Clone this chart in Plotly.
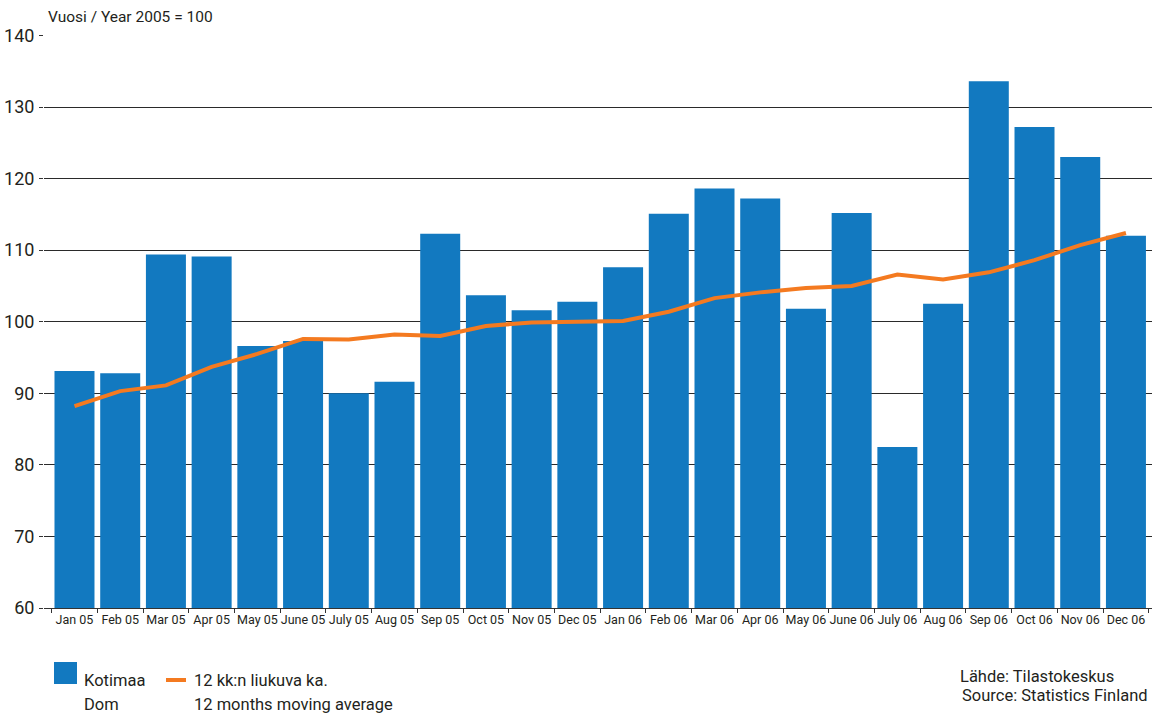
import plotly.graph_objects as go

categories = ["Jan 05", "Feb 05", "Mar 05", "Apr 05", "May 05", "June 05", "July 05", "Aug 05",
              "Sep 05", "Oct 05", "Nov 05", "Dec 05", "Jan 06", "Feb 06", "Mar 06", "Apr 06",
              "May 06", "June 06", "July 06", "Aug 06", "Sep 06", "Oct 06", "Nov 06", "Dec 06"]
kotimaa = [93.1, 92.8, 109.4, 109.1, 96.6, 97.3, 90.0, 91.6,
           112.3, 103.7, 101.6, 102.8, 107.6, 115.1, 118.6, 117.2,
           101.8, 115.2, 82.5, 102.5, 133.6, 127.2, 123.0, 112.0]
moving_avg = [88.2, 90.3, 91.1, 93.7, 95.5, 97.6, 97.5, 98.2,
              98.0, 99.4, 99.9, 100.0, 100.1, 101.4, 103.3, 104.1,
              104.7, 105.0, 106.6, 105.9, 106.9, 108.6, 110.7, 112.4]
y_ticks = [60, 70, 80, 90, 100, 110, 120, 130, 140]

BLUE = "#1279c0"
ORANGE = "#f47a20"
FONT = "Roboto, Liberation Sans, sans-serif"
TXT = "#231f20"

W, H = 1154, 715
L, R, T, B = 44, 2, 35, 107

fig = go.Figure()
fig.add_trace(go.Bar(x=categories, y=kotimaa, marker=dict(color=BLUE, line=dict(width=0)),
                     name="Kotimaa"))
fig.add_trace(go.Scatter(x=categories, y=moving_avg, mode="lines",
                         line=dict(color=ORANGE, width=4), name="12 kk:n liukuva ka."))

fig.update_layout(
    width=W, height=H,
    margin=dict(l=L, r=R, t=T, b=B, pad=0),
    paper_bgcolor="white", plot_bgcolor="white",
    showlegend=False, bargap=0.125,
    font=dict(family=FONT, color=TXT),
)
fig.update_xaxes(
    type="category", range=[-0.667, 23.57],
    tickson="boundaries", ticks="outside", ticklen=4, tickcolor="#333",
    showline=True, linecolor="#333", linewidth=1, tickangle=0,
    showgrid=False, tickfont=dict(size=12.5, family=FONT, color=TXT),
)
fig.update_yaxes(
    range=[60, 140.06], tickvals=y_ticks, ticks="outside", ticklen=4, tickcolor="#333",
    showgrid=True, gridcolor="#2a2a2a", gridwidth=1.2, zeroline=False, showline=False,
    tickfont=dict(size=18, family=FONT, color=TXT), ticklabelstandoff=1,
)


def px(xp):
    return (xp - L) / (W - L - R)


def py(yp):
    return (H - B - yp) / (H - B - T)


# title
fig.add_annotation(x=px(46), y=py(17), xref="paper", yref="paper", text="Vuosi / Year 2005 = 100",
                   showarrow=False, xanchor="left", yanchor="middle",
                   font=dict(size=15.5, family=FONT, color=TXT))

# legend
fig.add_shape(type="rect", xref="paper", yref="paper", x0=px(54), x1=px(77), y0=py(684), y1=py(662),
              fillcolor=BLUE, line=dict(width=0))
fig.add_shape(type="line", xref="paper", yref="paper", x0=px(166), x1=px(186), y0=py(680), y1=py(680),
              line=dict(color=ORANGE, width=4))
for xx, yy, t in [(82, 680, "Kotimaa"), (82, 704.5, "Dom"),
                  (192, 680, "12 kk:n liukuva ka."), (192, 704.5, "12 months moving average")]:
    fig.add_annotation(x=px(xx), y=py(yy), xref="paper", yref="paper", text=t, showarrow=False,
                       xanchor="left", yanchor="middle", font=dict(size=16.5, family=FONT, color=TXT))

# source
for xx, yy, t in [(958, 676.5, "Lähde: Tilastokeskus"), (960, 695.5, "Source: Statistics Finland")]:
    fig.add_annotation(x=px(xx), y=py(yy), xref="paper", yref="paper", text=t, showarrow=False,
                       xanchor="left", yanchor="middle", font=dict(size=16.5, family=FONT, color=TXT))

fig.write_html("out.html", config={"displayModeBar": False},
               post_script="document.body.style.margin='0';")
